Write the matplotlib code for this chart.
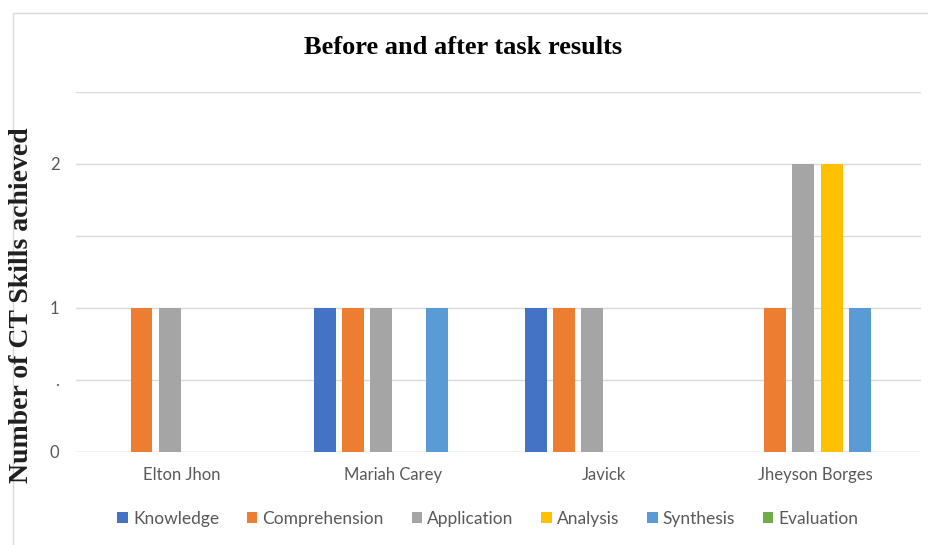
import numpy as np
import matplotlib.pyplot as plt
from matplotlib.patches import Rectangle

# Datos.
estudiantes = ['Elton Jhon', 'Mariah Carey', 'Javick', 'Jheyson Borges']
habilidades = ['Knowledge', 'Comprehension', 'Application', 'Analysis',
               'Synthesis', 'Evaluation']
colores = ['#4472C4', '#ED7D31', '#A5A5A5', '#FFC000', '#5B9BD5', '#70AD47']

knowledge = [0, 1, 1, 0]
comprehension = [1, 1, 1, 1]
application = [1, 1, 1, 2]
analysis = [0, 0, 0, 2]
synthesis = [0, 1, 0, 1]
evaluation = [0, 0, 0, 0]
series = [knowledge, comprehension, application, analysis, synthesis, evaluation]

y_ticks = [0, 0.5, 1, 1.5, 2, 2.5]
y_labels = ['0', '.', '1', '', '2', '']

# Figura.
fig = plt.figure(figsize=(9.29, 5.45), dpi=100)
ax = fig.add_axes([76/929, 1 - 452/545, 845/929, 360/545])

x = np.arange(len(estudiantes))
paso = 0.8 / len(series)
for i, (vals, nombre, c) in enumerate(zip(series, habilidades, colores)):
    ax.bar(x + (i - 2.5) * paso + 0.01, vals, width=paso * 0.78, color=c,
           label=nombre, zorder=3)

ax.set_xlim(-0.5, 3.5)
ax.set_ylim(0, 2.5)
ax.set_yticks(y_ticks)
ax.set_yticklabels(y_labels)
ax.set_xticks(x)
ax.set_xticklabels(estudiantes)
ax.grid(axis='y', color='#D9D9D9', linewidth=1, zorder=0)
ax.tick_params(length=0, colors='#595959', labelsize=12)
ax.tick_params(axis='x', pad=11)
ax.tick_params(axis='y', pad=12)
for lab in ax.get_xticklabels() + ax.get_yticklabels():
    lab.set_family('Lato')
for s in ax.spines.values():
    s.set_visible(False)
ax.axhline(0, color='#D9D9D9', linewidth=1, zorder=2)

fig.text(463/929, 1 - 48/545, 'Before and after task results',
         ha='center', va='center', family='Liberation Serif',
         fontweight='bold', fontsize=19)
fig.text(22/929, 1 - 305/545, 'Number of CT Skills achieved',
         ha='center', va='center', rotation=90, family='Liberation Serif',
         fontweight='bold', fontsize=20, color='#1F1F1F')

leg = fig.legend(loc='center', bbox_to_anchor=(488/929, 1 - 519/545), ncol=6,
                 frameon=False, handlelength=0.6, handleheight=0.6,
                 handletextpad=0.3, columnspacing=1.6,
                 prop={'family': 'Lato', 'size': 12.5})
for t in leg.get_texts():
    t.set_color('#595959')

fig.patches.append(Rectangle((13/929, -0.1), 1.2, 1 - 13/545 + 0.1,
                             transform=fig.transFigure, fill=False,
                             edgecolor='#D9D9D9', linewidth=1))

fig.savefig('out.png', dpi=100)
